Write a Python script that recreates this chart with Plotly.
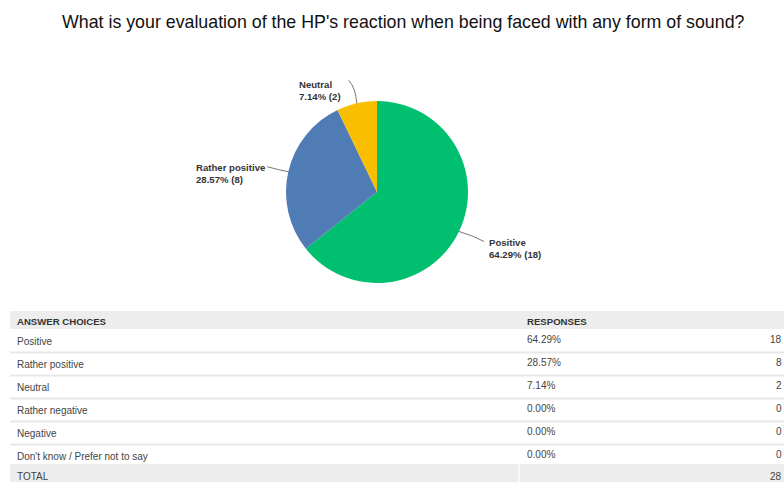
import math
import plotly.graph_objects as go

# ---- data ----
title_text = "What is your evaluation of the HP's reaction when being faced with any form of sound?"
pie_labels = ["Positive", "Rather positive", "Neutral"]
pie_counts = [18, 8, 2]
pie_colors = ["#00BF6F", "#507CB6", "#F9BE00"]

answer_choices = ["Positive", "Rather positive", "Neutral", "Rather negative",
                  "Negative", "Don't know / Prefer not to say"]
response_pcts = ["64.29%", "28.57%", "7.14%", "0.00%", "0.00%", "0.00%"]
response_counts = [18, 8, 2, 0, 0, 0]
total_count = 28

W, H = 784, 482
def px(x):
    return x / W
def py(y):
    return 1 - y / H

# pie geometry (pixels)
cx, cy, R = 377, 192, 91

fig = go.Figure()
fig.add_trace(go.Pie(
    labels=pie_labels, values=pie_counts, sort=False, direction="clockwise",
    rotation=0, textinfo="none", hoverinfo="label+percent+value",
    marker=dict(colors=pie_colors, line=dict(width=0)),
    domain=dict(x=[px(cx - R), px(cx + R)], y=[py(cy + R), py(cy - R)]),
    showlegend=False,
))

shapes = []
annotations = []

# title
annotations.append(dict(x=px(404), y=py(22), xref="paper", yref="paper",
                        text=title_text, showarrow=False, xanchor="center", yanchor="middle",
                        font=dict(family="Liberation Sans, Arial", size=17.8, color="#111")))

# pie labels with leader lines
total = sum(pie_counts)
label_layout = {
    "Positive": dict(ctrl=(14, 4), end=(25, 10), tx=487, ty=235, xanchor="left"),
    "Rather positive": dict(ctrl=(-10, -2), end=(-21, -5), tx=267, ty=160, xanchor="right"),
    "Neutral": dict(ctrl=(-1, -15), end=(-8, -23), tx=343, ty=77, xanchor="right"),
}
cum = 0
for lab, v in zip(pie_labels, pie_counts):
    mid = (cum + v / 2) / total * 2 * math.pi
    cum += v
    ex = cx + R * math.sin(mid)
    ey = cy - R * math.cos(mid)
    L = label_layout[lab]
    qx, qy = ex + L["ctrl"][0], ey + L["ctrl"][1]
    fx, fy = ex + L["end"][0], ey + L["end"][1]
    path = "M {} {} Q {} {} {} {}".format(px(ex), py(ey), px(qx), py(qy), px(fx), py(fy))
    shapes.append(dict(type="path", xref="paper", yref="paper", path=path,
                       line=dict(color="#777", width=1)))
    pct = v / total * 100
    annotations.append(dict(x=px(L["tx"]), y=py(L["ty"]), xref="paper", yref="paper",
                            text="<b>{}</b><br><b>{:.2f}% ({})</b>".format(lab, pct, v),
                            showarrow=False, xanchor=L["xanchor"], yanchor="top", align="left",
                            font=dict(family="Liberation Sans, Arial", size=9.6, color="#333")))

# ---- table ----
tx0, tx1 = 10, 790
hdr_top, hdr_bot = 311, 329
row_h = 23
first_row_center = 341
left_x, pct_x, cnt_x = 15, 525, 784
tfont = dict(family="Liberation Sans, Arial", size=10, color="#444")
hfont = dict(family="Liberation Sans, Arial", size=9.6, color="#333")

shapes.append(dict(type="rect", xref="paper", yref="paper", x0=px(tx0), x1=px(tx1),
                   y0=py(hdr_bot), y1=py(hdr_top), fillcolor="#EDEDED", line=dict(width=0)))
annotations.append(dict(x=px(left_x), y=py(321), xref="paper", yref="paper", text="<b>ANSWER CHOICES</b>",
                        showarrow=False, xanchor="left", yanchor="middle", font=hfont))
annotations.append(dict(x=px(pct_x), y=py(321), xref="paper", yref="paper", text="<b>RESPONSES</b>",
                        showarrow=False, xanchor="left", yanchor="middle", font=hfont))

for i, (ch, pc, ct) in enumerate(zip(answer_choices, response_pcts, response_counts)):
    yc = first_row_center + i * row_h
    annotations.append(dict(x=px(left_x), y=py(yc), xref="paper", yref="paper", text=ch,
                            showarrow=False, xanchor="left", yanchor="middle", font=tfont))
    annotations.append(dict(x=px(pct_x), y=py(yc - 2), xref="paper", yref="paper", text=pc,
                            showarrow=False, xanchor="left", yanchor="middle", font=tfont))
    annotations.append(dict(x=px(cnt_x), y=py(yc - 2), xref="paper", yref="paper", text=str(ct),
                            showarrow=False, xanchor="right", yanchor="middle", font=tfont))
    if i < len(answer_choices) - 1:
        ys = yc + 11.5
        shapes.append(dict(type="rect", xref="paper", yref="paper", x0=px(tx0), x1=px(tx1),
                           y0=py(ys + 1), y1=py(ys - 1), fillcolor="#E8E8E8", line=dict(width=0)))

tot_top = 464
shapes.append(dict(type="rect", xref="paper", yref="paper", x0=px(tx0), x1=px(tx1),
                   y0=0, y1=py(tot_top), fillcolor="#EDEDED", line=dict(width=0)))
shapes.append(dict(type="rect", xref="paper", yref="paper", x0=px(518), x1=px(520),
                   y0=0, y1=py(tot_top), fillcolor="#F7F7F7", line=dict(width=0)))
annotations.append(dict(x=px(left_x), y=py(476), xref="paper", yref="paper", text="TOTAL",
                        showarrow=False, xanchor="left", yanchor="middle", font=tfont))
annotations.append(dict(x=px(cnt_x), y=py(476), xref="paper", yref="paper", text=str(total_count),
                        showarrow=False, xanchor="right", yanchor="middle", font=tfont))

fig.update_layout(
    width=W, height=H, margin=dict(l=0, r=0, t=0, b=0),
    paper_bgcolor="white", plot_bgcolor="white",
    shapes=shapes, annotations=annotations, showlegend=False,
)
fig.write_html("out.html")
